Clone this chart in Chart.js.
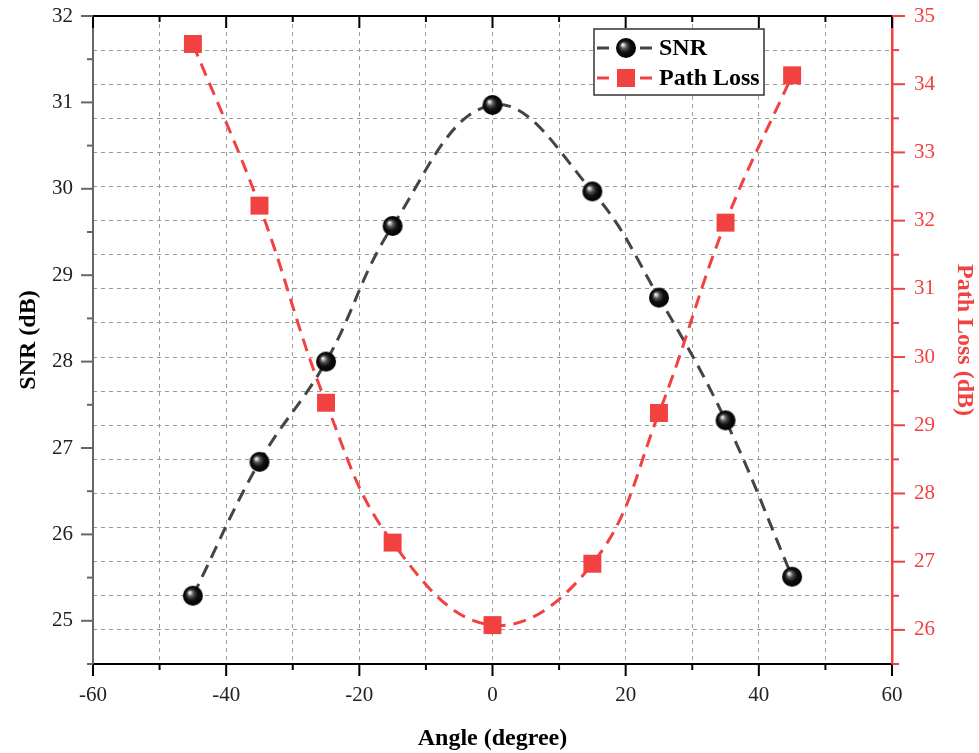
<!DOCTYPE html>
<html>
<head>
<meta charset="utf-8">
<script src="https://cdn.jsdelivr.net/npm/chart.js@4.4.1/dist/chart.umd.min.js"></script>
<style>
  html, body { margin: 0; padding: 0; background: #fff; }
</style>
</head>
<body>
<canvas id="chart" width="979" height="753"></canvas>
<script>
const angles = [-45, -35, -25, -15, 0, 15, 25, 35, 45];
const snr = [25.29, 26.84, 28.0, 29.57, 30.97, 29.97, 28.74, 27.32, 25.51];
const pathLoss = [34.59, 32.22, 29.33, 27.28, 26.07, 26.97, 29.18, 31.97, 34.13];

const RED = '#f24141';
const GRAY = '#444';
const serif = '"Liberation Serif", "Times New Roman", serif';

// glossy black ball used for the SNR markers
function makeBall(r) {
  const c = document.createElement('canvas');
  c.width = c.height = r * 2 + 2;
  const g = c.getContext('2d');
  const cx = r + 1, cy = r + 1;
  const grad = g.createRadialGradient(cx - r * 0.35, cy - r * 0.35, 0, cx, cy, r);
  grad.addColorStop(0, '#ffffff');
  grad.addColorStop(0.12, '#d0d0d0');
  grad.addColorStop(0.32, '#555');
  grad.addColorStop(0.6, '#111');
  grad.addColorStop(1, '#000');
  g.fillStyle = grad;
  g.beginPath();
  g.arc(cx, cy, r, 0, Math.PI * 2);
  g.fill();
  return c;
}
const ball = makeBall(10);

const toPoints = ys => angles.map((x, i) => ({ x: x, y: ys[i] }));

// fixed axis box sizes, no extra room for overhanging labels
const fixWidth = w => s => { s.width = w; s.paddingTop = 0; s.paddingBottom = 0; };
const fixHeight = h => s => { s.height = h; s.paddingLeft = 0; s.paddingRight = 0; };

// tick marks (long on labelled values, short in between) and the top frame
const axisTicks = {
  id: 'axisTicks',
  afterDraw(chart) {
    const { ctx, chartArea: a, scales } = chart;
    const line = (x1, y1, x2, y2) => {
      ctx.beginPath(); ctx.moveTo(x1, y1); ctx.lineTo(x2, y2); ctx.stroke();
    };
    ctx.save();
    ctx.lineWidth = 2;

    ctx.strokeStyle = '#000';
    line(a.left - 1, a.top, a.right, a.top);
    scales.x.ticks.forEach(t => {
      const px = scales.x.getPixelForValue(t.value);
      const len = t.value % 20 === 0 ? 12 : 6;
      line(px, a.bottom, px, a.bottom + len);
      line(px, a.top, px, a.top + len);
    });

    ctx.strokeStyle = '#666';
    scales.y.ticks.forEach(t => {
      const py = scales.y.getPixelForValue(t.value);
      const len = Number.isInteger(t.value) ? 12 : 6;
      line(a.left, py, a.left - len, py);
    });

    ctx.strokeStyle = RED;
    scales.y1.ticks.forEach(t => {
      const py = scales.y1.getPixelForValue(t.value);
      const len = Number.isInteger(t.value) ? 13 : 7;
      line(a.right, py, a.right + len, py);
    });
    ctx.restore();
  }
};

// boxed legend inside the plot, top right
const boxLegend = {
  id: 'boxLegend',
  afterDatasetsDraw(chart) {
    const ctx = chart.ctx;
    ctx.save();
    ctx.fillStyle = '#fff';
    ctx.strokeStyle = '#333';
    ctx.lineWidth = 1.5;
    ctx.fillRect(594, 29, 170, 66);
    ctx.strokeRect(594, 29, 170, 66);

    const rows = [
      { label: 'SNR', color: GRAY, y: 48 },
      { label: 'Path Loss', color: RED, y: 78 }
    ];
    rows.forEach((r, i) => {
      ctx.strokeStyle = r.color;
      ctx.lineWidth = 3;
      ctx.beginPath();
      ctx.moveTo(597, r.y); ctx.lineTo(609, r.y);
      ctx.moveTo(640, r.y); ctx.lineTo(652, r.y);
      ctx.stroke();
      if (i === 0) {
        ctx.drawImage(ball, 626 - ball.width / 2, r.y - ball.height / 2);
      } else {
        ctx.fillStyle = RED;
        ctx.fillRect(617, r.y - 9, 18, 18);
      }
      ctx.fillStyle = '#000';
      ctx.font = 'bold 24px ' + serif;
      ctx.textBaseline = 'middle';
      ctx.fillText(r.label, 659, r.y + 1);
    });
    ctx.restore();
  }
};

new Chart(document.getElementById('chart'), {
  type: 'line',
  data: {
    datasets: [
      {
        label: 'Path Loss',
        data: toPoints(pathLoss),
        yAxisID: 'y1',
        borderColor: RED,
        borderWidth: 3,
        borderDash: [13, 8],
        tension: 0.4,
        pointStyle: 'rect',
        pointRadius: 12.7,
        pointBackgroundColor: RED,
        pointBorderWidth: 0
      },
      {
        label: 'SNR',
        data: toPoints(snr),
        yAxisID: 'y',
        borderColor: GRAY,
        borderWidth: 3,
        borderDash: [13, 8],
        tension: 0.4,
        pointStyle: ball,
        pointRadius: 10
      }
    ]
  },
  options: {
    responsive: false,
    animation: false,
    clip: false,
    layout: { padding: { top: 16, left: 0, right: 0, bottom: 0 } },
    plugins: { legend: { display: false }, tooltip: { enabled: false } },
    scales: {
      x: {
        type: 'linear',
        min: -60, max: 60,
        afterFit: fixHeight(89),
        ticks: {
          stepSize: 10, autoSkip: false, padding: 19, color: '#222',
          font: { family: serif, size: 21 },
          callback: v => (v % 20 === 0 ? v : '')
        },
        grid: {
          drawTicks: false, lineWidth: 1,
          color: c => (c.tick && Math.abs(c.tick.value) === 60 ? 'rgba(0,0,0,0)' : '#999')
        },
        border: { color: '#000', width: 2, dash: [4, 4] },
        title: {
          display: true, text: 'Angle (degree)', color: '#000',
          font: { family: serif, size: 24, weight: 'bold' }, padding: { top: 0, bottom: 0 }
        }
      },
      y: {
        position: 'left',
        min: 24.5, max: 32,
        afterFit: fixWidth(93),
        ticks: {
          stepSize: 0.5, autoSkip: false, padding: 20, color: '#222',
          font: { family: serif, size: 21 },
          callback: v => (Number.isInteger(v) ? v : '')
        },
        grid: { display: false, drawTicks: false },
        border: { color: '#666', width: 2 },
        title: {
          display: true, text: 'SNR (dB)', color: '#000',
          font: { family: serif, size: 24, weight: 'bold' }, padding: { top: 14, bottom: 0 }
        }
      },
      y1: {
        position: 'right',
        min: 25.5, max: 35,
        afterFit: fixWidth(87),
        ticks: {
          stepSize: 0.5, autoSkip: false, padding: 22, color: RED,
          font: { family: serif, size: 21 },
          callback: v => (Number.isInteger(v) ? v : '')
        },
        grid: {
          drawTicks: false, lineWidth: 1,
          color: c => (c.tick && (c.tick.value === 35 || c.tick.value === 25.5) ? 'rgba(0,0,0,0)' : '#999')
        },
        border: { color: RED, width: 2.5, dash: [4, 4] },
        title: {
          display: true, text: 'Path Loss (dB)', color: RED,
          font: { family: serif, size: 24, weight: 'bold' }, padding: { top: 0, bottom: 0 }
        }
      }
    }
  },
  plugins: [boxLegend, axisTicks]
});
</script>
</body>
</html>
